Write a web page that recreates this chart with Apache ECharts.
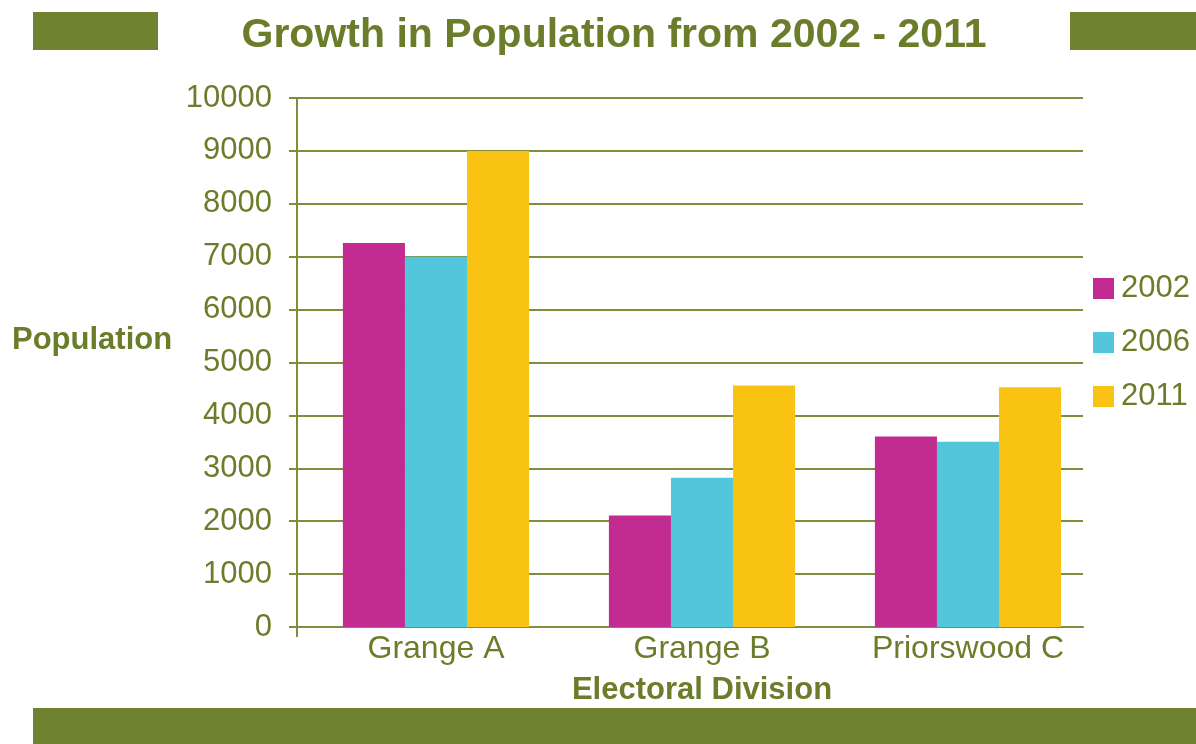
<!DOCTYPE html>
<html>
<head>
<meta charset="utf-8">
<script src="https://cdn.jsdelivr.net/npm/echarts@6/dist/echarts.min.js"></script>
<style>html,body{margin:0;padding:0;background:#fff;}#c{width:1196px;height:744px;}</style>
</head>
<body>
<div id="c"></div>
<script>
var categories = ['Grange A', 'Grange B', 'Priorswood C'];
var seriesNames = ['2002', '2006', '2011'];
var values2002 = [7260, 2110, 3600];
var values2006 = [7000, 2820, 3500];
var values2011 = [9000, 4565, 4530];
var yTicks = [0, 1000, 2000, 3000, 4000, 5000, 6000, 7000, 8000, 9000, 10000];

var olive = '#6f822f';
var textOlive = '#6b7d2a';
var lineOlive = '#7d8f3c';
var colors = ['#c22b8f', '#52c6da', '#f8c312'];
var font = '"Liberation Sans", Arial, sans-serif';

var chart = echarts.init(document.getElementById('c'), null, {renderer: 'canvas'});
var allValues = [values2002, values2006, values2011];
chart.setOption({
  backgroundColor: '#ffffff',
  animation: false,
  graphic: [
    {type: 'rect', left: 33, top: 12, shape: {width: 125, height: 38}, style: {fill: olive}},
    {type: 'rect', left: 1070, top: 12, shape: {width: 126, height: 38}, style: {fill: olive}},
    {type: 'rect', left: 33, top: 708, shape: {width: 1163, height: 36}, style: {fill: olive}},
    {type: 'text', x: 614, y: 36, style: {text: 'Growth in Population from 2002 - 2011', fill: textOlive,
      font: 'bold 41px ' + font, textAlign: 'center', textVerticalAlign: 'middle'}},
    {type: 'text', x: 12, y: 340, style: {text: 'Population', fill: textOlive, font: 'bold 31px ' + font,
      textAlign: 'left', textVerticalAlign: 'middle'}}
  ],
  legend: {
    orient: 'vertical',
    left: 1088,
    top: 268,
    itemWidth: 21,
    itemHeight: 21,
    itemGap: 23,
    icon: 'rect',
    textStyle: {color: textOlive, fontFamily: font, fontSize: 31, padding: [0, 0, 0, 2]},
    data: seriesNames
  },
  grid: [
    {left: 297, right: 113, top: 98, bottom: 117, containLabel: false},
    {left: 303, right: 95, top: 98, bottom: 117, containLabel: false}
  ],
  xAxis: [
    {
      type: 'value', gridIndex: 0, min: 0, max: 3,
      axisLine: {show: true, lineStyle: {color: lineOlive, width: 2}},
      axisTick: {show: true, length: 10, customValues: [0], lineStyle: {color: lineOlive, width: 2}},
      axisLabel: {show: false},
      splitLine: {show: false}
    },
    {
      type: 'category', gridIndex: 1,
      data: categories,
      name: 'Electoral Division',
      nameLocation: 'middle',
      nameGap: 48,
      nameTextStyle: {color: textOlive, fontFamily: font, fontWeight: 'bold', fontSize: 31},
      axisLine: {show: false},
      axisTick: {show: false},
      axisLabel: {color: textOlive, fontFamily: font, fontSize: 32, margin: 6}
    }
  ],
  yAxis: [
    {
      type: 'value', gridIndex: 0,
      min: 0, max: 10000, interval: 1000,
      axisLine: {show: true, lineStyle: {color: lineOlive, width: 2}},
      axisTick: {show: true, length: 8, lineStyle: {color: lineOlive, width: 2}},
      axisLabel: {color: textOlive, fontFamily: font, fontSize: 31, margin: 25,
        formatter: function (v) { return yTicks.indexOf(v) >= 0 ? String(v) : ''; }},
      splitLine: {show: true, lineStyle: {color: lineOlive, width: 2}}
    },
    {
      type: 'value', gridIndex: 1,
      min: 0, max: 10000, interval: 1000,
      show: false
    }
  ],
  series: seriesNames.map(function (n, i) {
    return {
      name: n,
      type: 'bar',
      xAxisIndex: 1,
      yAxisIndex: 1,
      data: allValues[i],
      barGap: '0%',
      barCategoryGap: '30%',
      itemStyle: {color: colors[i]}
    };
  })
});
</script>
</body>
</html>
